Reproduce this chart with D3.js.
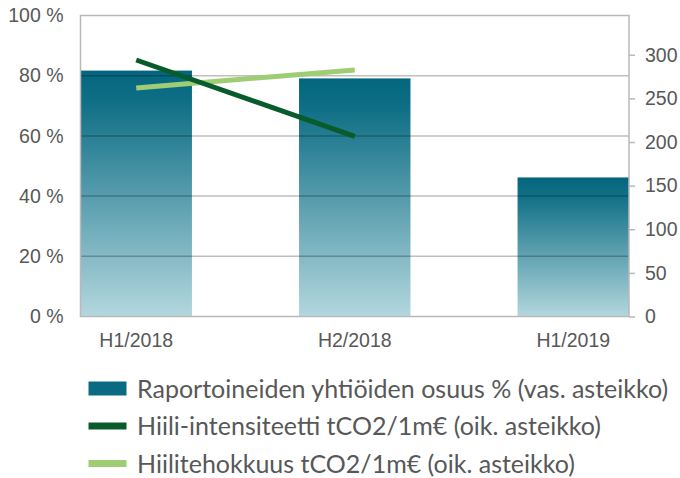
<!DOCTYPE html>
<html>
<head>
<meta charset="utf-8">
<script src="https://cdn.jsdelivr.net/npm/d3@7"></script>
<style>
  html, body { margin: 0; padding: 0; background: #fff; }
  svg { display: block; }
</style>
</head>
<body>
<svg id="chart" width="680" height="478"></svg>
<script>
// Periods and series
const categories = ["H1/2018", "H2/2018", "H1/2019"];
const reportedShare = [81.7, 79.1, 46.2];          // % (left axis)
const carbonIntensity = [294, 206.5, null];        // tCO2/1m€ (right axis)
const carbonEfficiency = [262, 282.5, null];       // tCO2/1m€ (right axis)
const leftTicks = [0, 20, 40, 60, 80, 100];
const rightTicks = [0, 50, 100, 150, 200, 250, 300];
const legendLabels = [
  "Raportoineiden yhtiöiden osuus % (vas. asteikko)",
  "Hiili-intensiteetti tCO2/1m€ (oik. asteikko)",
  "Hiilitehokkuus tCO2/1m€ (oik. asteikko)"
];

const svg = d3.select("#chart");
const plot = { left: 80.5, right: 629, top: 15.5, bottom: 316.5 };
const axisFont = "'Liberation Sans', Arial, sans-serif";
const legendFont = "Lato, sans-serif";
const textColor = "#585858";

const x = d3.scaleBand().domain(categories)
  .range([plot.left, plot.right]).paddingInner(0.49).paddingOuter(0);
const yL = d3.scaleLinear().domain([0, 100]).range([plot.bottom, plot.top]);
const yR = d3.scaleLinear().domain([0, 345]).range([plot.bottom, plot.top]);

// Each bar fades from deep teal at its top to pale blue at the base
const grad = svg.append("defs").append("linearGradient").attr("id", "barGrad")
  .attr("x1", 0).attr("y1", 0).attr("x2", 0).attr("y2", 1);
grad.append("stop").attr("offset", "0").attr("stop-color", "#04667e");
grad.append("stop").attr("offset", "0.12").attr("stop-color", "#0e6e85");
grad.append("stop").attr("offset", "1").attr("stop-color", "#b3d7de");

svg.append("g").selectAll("rect").data(categories).join("rect")
  .attr("x", d => x(d))
  .attr("width", x.bandwidth())
  .attr("y", (d, i) => yL(reportedShare[i]))
  .attr("height", (d, i) => yL(0) - yL(reportedShare[i]))
  .attr("fill", "url(#barGrad)");

// Horizontal gridlines, drawn over the bars
svg.append("g").selectAll("line").data(leftTicks.filter(t => t > 0 && t < 100)).join("line")
  .attr("x1", plot.left).attr("x2", plot.right)
  .attr("y1", d => yL(d)).attr("y2", d => yL(d))
  .attr("stroke", "#000").attr("stroke-opacity", 0.25).attr("stroke-width", 1.5);

// Frame
svg.append("rect")
  .attr("x", plot.left).attr("y", plot.top)
  .attr("width", plot.right - plot.left).attr("height", plot.bottom - plot.top)
  .attr("fill", "none").attr("stroke", "#b9b9b9").attr("stroke-width", 1.5);

// Lines on the right scale
const line = d3.line()
  .defined(d => d.v != null)
  .x(d => x(d.c) + x.bandwidth() / 2)
  .y(d => yR(d.v));
const series = [
  { values: carbonIntensity, color: "#085c2c" },
  { values: carbonEfficiency, color: "#9fcd73" }
];
series.slice().reverse().forEach(s => {
  svg.append("path")
    .datum(categories.map((c, i) => ({ c, v: s.values[i] })))
    .attr("d", line)
    .attr("fill", "none")
    .attr("stroke", s.color)
    .attr("stroke-width", 5);
});

// Left axis
const leftAxis = svg.append("g").attr("transform", `translate(${plot.left},0)`)
  .call(d3.axisLeft(yL).tickValues(leftTicks).tickSize(0).tickPadding(17)
    .tickFormat(d => d + " %"));
leftAxis.select(".domain").remove();
leftAxis.selectAll("text").attr("font-family", axisFont).attr("font-size", 19.5)
  .attr("fill", textColor);

// Right axis
const rightAxis = svg.append("g").attr("transform", `translate(${plot.right},0)`)
  .call(d3.axisRight(yR).tickValues(rightTicks).tickSize(6).tickPadding(10));
rightAxis.select(".domain").remove();
rightAxis.selectAll("line").attr("stroke", "#b9b9b9").attr("stroke-width", 1.5);
rightAxis.selectAll("text").attr("font-family", axisFont).attr("font-size", 19.5)
  .attr("fill", textColor);

// Category axis
const bottomAxis = svg.append("g").attr("transform", `translate(0,${plot.bottom})`)
  .call(d3.axisBottom(x).tickSize(0).tickPadding(17));
bottomAxis.select(".domain").remove();
bottomAxis.selectAll("text").attr("font-family", axisFont).attr("font-size", 19.5)
  .attr("fill", textColor);

// Legend
const legendColors = ["#0a6a82", "#085c2c", "#9fcd73"];
const legend = svg.append("g").attr("transform", "translate(88.5,388.5)");
legendLabels.forEach((label, i) => {
  const row = legend.append("g").attr("transform", `translate(0,${i * 37.5})`);
  const h = i === 0 ? 14 : 7;
  row.append("rect").attr("x", 0).attr("y", -h / 2).attr("width", 38)
    .attr("height", h).attr("fill", legendColors[i]);
  row.append("text").attr("x", 48.5).attr("y", 9)
    .attr("font-family", legendFont).attr("font-size", 25)
    .attr("fill", textColor).text(label);
});
</script>
</body>
</html>
